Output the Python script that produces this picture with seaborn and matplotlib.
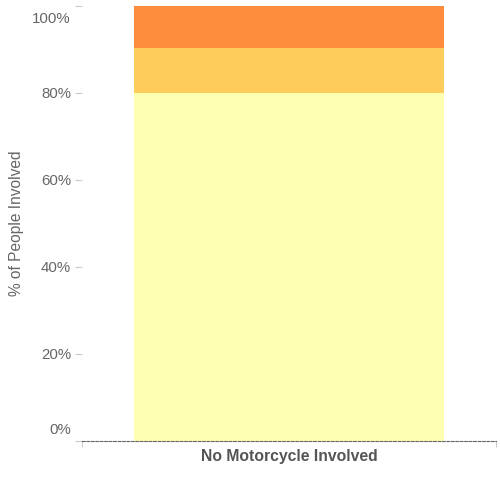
import pandas as pd
import matplotlib.pyplot as plt
import matplotlib.transforms as mtransforms
import seaborn as sns

# data
categories = ["No Motorcycle Involved"]
segments = ["Low", "Medium", "High"]
shares = [80.0, 10.3, 9.7]
colors = ["#ffffb2", "#fecc5c", "#fd8d3c"]
y_ticks = [0, 20, 40, 60, 80, 100]

sns.set_style("white")
plt.rcParams["font.family"] = ["Liberation Sans", "DejaVu Sans"]

fig = plt.figure(figsize=(5, 4.87), dpi=100)
ax = fig.add_axes([0.164, 0.0945, 0.828, 0.8932])

# stacked bar: draw cumulative totals from the top segment down
cum = pd.Series(shares).cumsum().tolist()
for i in reversed(range(len(segments))):
    df = pd.DataFrame({"category": categories, "value": [cum[i]]})
    sns.barplot(data=df, x="category", y="value", color=colors[i],
                saturation=1, width=0.75, linewidth=0, ax=ax)

ax.set_xlim(-0.5, 0.5)
ax.set_ylim(0, 100)
ax.set_yticks(y_ticks)
ax.set_yticklabels([f"{t}%" for t in y_ticks], color="#666666", fontsize=10.8)
ax.tick_params(axis="y", length=5, width=0.8, color="#cccccc", pad=3, left=True)
ax.set_xticks([0])
ax.set_xticklabels(categories, fontsize=11.3, fontweight="bold", color="#555555")
ax.tick_params(axis="x", which="major", length=0, pad=6)
ax.set_xticks([-0.5, 0.5], minor=True)
ax.tick_params(axis="x", which="minor", length=4, width=0.8, color="#cccccc", bottom=True)
ax.set_xlabel("")
ax.set_ylabel("% of People Involved", color="#666666", fontsize=11.2)
ax.yaxis.set_label_coords(-0.14, 0.5)

for s in ["left", "right", "top"]:
    ax.spines[s].set_visible(False)
ax.spines["bottom"].set_linestyle((0, (2.5, 1.5)))
ax.spines["bottom"].set_color("#666666")
ax.spines["bottom"].set_linewidth(0.8)

# keep the end labels inside the plot like the reference
labels = ax.get_yticklabels()
labels[0].set_transform(labels[0].get_transform() +
                        mtransforms.ScaledTranslation(0, 9 / 72, fig.dpi_scale_trans))
labels[-1].set_transform(labels[-1].get_transform() +
                         mtransforms.ScaledTranslation(0, -8 / 72, fig.dpi_scale_trans))

fig.savefig("out.png", dpi=100)
